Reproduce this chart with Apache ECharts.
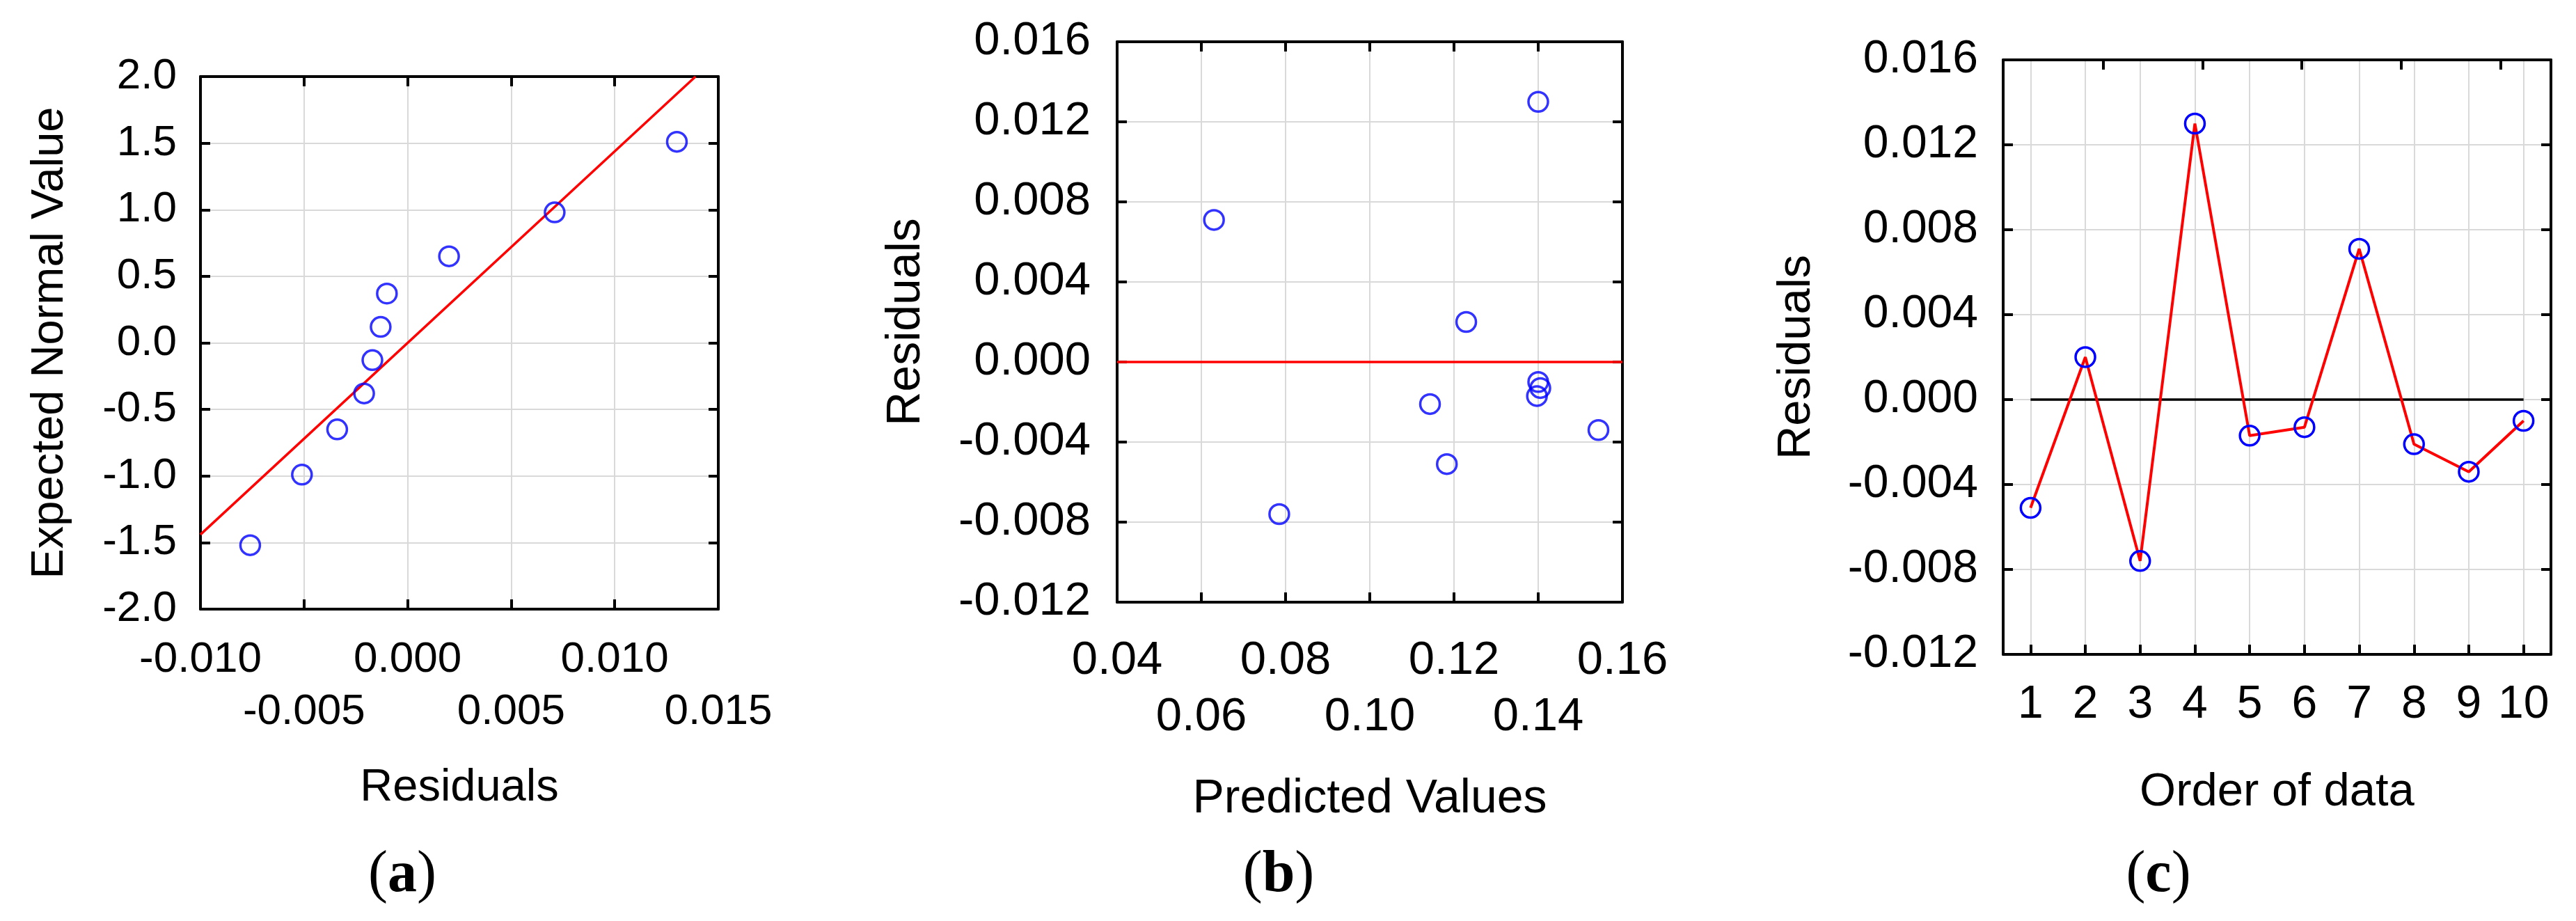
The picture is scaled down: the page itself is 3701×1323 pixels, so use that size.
<!DOCTYPE html>
<html>
<head>
<meta charset="utf-8">
<title>Residual plots</title>
<script src="https://cdn.jsdelivr.net/npm/echarts@6.0.0/dist/echarts.min.js"></script>
<style>
html, body { margin: 0; padding: 0; background: #fff; }
#chart { width: 3701px; height: 1323px; }
</style>
</head>
<body>
<div id="chart"></div>
<script>
// runs in the order they were done, with their residuals (panel c)
var orderTicks = [1, 2, 3, 4, 5, 6, 7, 8, 9, 10];
var residuals = [-0.0051, 0.0020, -0.0076, 0.0130, -0.0017, -0.0013, 0.0071, -0.0021, -0.0034, -0.0010];
// predicted value of each run (panel b)
var predicted = [0.1183, 0.1229, 0.0785, 0.1400, 0.1397, 0.1405, 0.0630, 0.1143, 0.1543, 0.1400];
// expected normal value of the sorted residuals (panel a)
var normalValues = [-1.52, -0.99, -0.65, -0.38, -0.13, 0.12, 0.37, 0.65, 0.98, 1.51];
// fitted line of the normal plot
var normalLine = [[-0.010, -1.44], [0.0139, 2.0]];
// zero lines of panels b and c
var zeroLineB = [[0.04, 0], [0.16, 0]];
var zeroLineC = [[1, 0], [10, 0]];
// x tick labels, staggered on two rows
var labelsA1 = [-0.010, 0.000, 0.010];
var labelsA2 = [-0.005, 0.005, 0.015];
var labelsB1 = [0.04, 0.08, 0.12, 0.16];
var labelsB2 = [0.06, 0.10, 0.14];
// odd tick marks on the top edge of panel c
var topTicksC = [2.33, 4.14, 5.95, 7.76, 9.58];
var panelLetters = ['a', 'b', 'c'];

var FONT = '"Liberation Sans", Arial, sans-serif';
var SERIF = '"Liberation Serif", "Times New Roman", serif';

var rectA = {left: 288, top: 110, width: 744, height: 765};
var rectB = {left: 1605, top: 60, width: 726, height: 805};
var rectC = {left: 2878, top: 86, width: 787, height: 854};

function fmt(d) {
	return function (v) {
		if (Math.abs(v) < 1e-12) v = 0;
		return v.toFixed(d);
	};
}
function frameLine() {
	return {show: true, onZero: false, lineStyle: {color: '#000', width: 4}};
}
function tickStyle(custom) {
	var t = {show: true, inside: true, length: 14, lineStyle: {color: '#000', width: 4}};
	if (custom) t.customValues = custom;
	return t;
}
function gridLine() {
	return {show: true, lineStyle: {color: '#d9d9d9', width: 2}};
}
function nameStyle(fs) {
	return {color: '#000', fontFamily: FONT, fontSize: fs};
}
function labelStyle(custom, dec, margin, fs) {
	var l = {show: true, margin: margin, color: '#000', fontFamily: FONT, fontSize: fs, lineHeight: fs};
	if (custom) l.customValues = custom;
	if (dec !== null) l.formatter = fmt(dec);
	return l;
}
function box(r) {
	return {left: r.left, top: r.top, width: r.width, height: r.height, show: false};
}

function bottomAxis(gi, min, max, step, labels, dec, margin, fs, name, gap, nfs) {
	return {
		type: 'value', gridIndex: gi, position: 'bottom',
		min: min, max: max, interval: step,
		axisLine: frameLine(),
		axisTick: tickStyle(),
		splitLine: gridLine(),
		axisLabel: labelStyle(labels, dec, margin, fs),
		name: name, nameLocation: 'middle', nameGap: gap, nameTextStyle: nameStyle(nfs)
	};
}
// second row of labels, on an overlaid grid
function rowAxis(gi, min, max, labels, dec, margin, fs) {
	return {
		type: 'value', gridIndex: gi, position: 'bottom', min: min, max: max,
		axisLine: {show: false, onZero: false},
		axisTick: {show: false},
		splitLine: {show: false},
		axisLabel: labelStyle(labels, dec, margin, fs)
	};
}
function leftAxis(gi, min, max, step, dec, margin, fs, name, gap, nfs) {
	return {
		type: 'value', gridIndex: gi, position: 'left',
		min: min, max: max, interval: step,
		axisLine: frameLine(),
		axisTick: tickStyle(),
		splitLine: gridLine(),
		axisLabel: labelStyle(null, dec, margin, fs),
		name: name, nameLocation: 'middle', nameGap: gap, nameTextStyle: nameStyle(nfs)
	};
}
// frame axes on top and right, ticks only
function frameAxis(gi, pos, min, max, step, custom) {
	var a = {
		type: 'value', gridIndex: gi, position: pos,
		min: min, max: max,
		axisLine: frameLine(),
		axisTick: tickStyle(custom),
		axisLabel: {show: false},
		splitLine: {show: false}
	};
	if (step) a.interval = step;
	return a;
}
function hiddenY(gi) {
	return {type: 'value', gridIndex: gi, show: false, min: 0, max: 1};
}

var sortedRes = residuals.slice().sort(function (x, y) { return x - y; });
var normalData = [];
for (var i = 0; i < sortedRes.length; i++) normalData.push([sortedRes[i], normalValues[i]]);
var predData = [];
var orderData = [];
for (var j = 0; j < residuals.length; j++) {
	predData.push([predicted[j], residuals[j]]);
	orderData.push([orderTicks[j], residuals[j]]);
}

var marker = {color: 'rgba(0,0,0,0)', borderColor: '#0000ff', borderWidth: 3.5};

var myChart = echarts.init(document.getElementById('chart'), null, {renderer: 'canvas'});
myChart.setOption({
	animation: false,
	backgroundColor: '#fff',
	grid: [box(rectA), box(rectB), box(rectC), box(rectA), box(rectB)],
	xAxis: [
		bottomAxis(0, -0.010, 0.015, 0.005, labelsA1, 3, 42, 62, 'Residuals', 225, 65),
		frameAxis(0, 'top', -0.010, 0.015, 0.005),
		bottomAxis(1, 0.04, 0.16, 0.02, labelsB1, 2, 51, 67, 'Predicted Values', 249, 68),
		frameAxis(1, 'top', 0.04, 0.16, 0.02),
		{
			type: 'value', gridIndex: 2, position: 'bottom', min: 0.5, max: 10.5,
			axisLine: frameLine(),
			axisTick: tickStyle(orderTicks),
			splitLine: gridLine(),
			axisLabel: labelStyle(orderTicks, null, 40, 66),
			name: 'Order of data', nameLocation: 'middle', nameGap: 165, nameTextStyle: nameStyle(67)
		},
		frameAxis(2, 'top', 0.5, 10.5, null, topTicksC),
		rowAxis(3, -0.010, 0.015, labelsA2, 3, 117, 62),
		rowAxis(4, 0.04, 0.16, labelsB2, 2, 132, 67)
	],
	yAxis: [
		leftAxis(0, -2, 2, 0.5, 1, 34, 62, 'Expected Normal Value', 183, 65),
		frameAxis(0, 'right', -2, 2, 0.5),
		leftAxis(1, -0.012, 0.016, 0.004, 3, 38, 67, 'Residuals', 269, 68),
		frameAxis(1, 'right', -0.012, 0.016, 0.004),
		leftAxis(2, -0.012, 0.016, 0.004, 3, 36, 66, 'Residuals', 263, 67),
		frameAxis(2, 'right', -0.012, 0.016, 0.004),
		hiddenY(3),
		hiddenY(4)
	],
	series: [
		{type: 'line', xAxisIndex: 0, yAxisIndex: 0, data: normalLine, symbol: 'none', silent: true,
			lineStyle: {color: '#ff0000', width: 3.5}, z: 2},
		{type: 'scatter', xAxisIndex: 0, yAxisIndex: 0, data: normalData, symbol: 'circle', symbolSize: 28,
			itemStyle: marker, silent: true, z: 3},
		{type: 'line', xAxisIndex: 2, yAxisIndex: 2, data: zeroLineB, symbol: 'none', silent: true,
			lineStyle: {color: '#ff0000', width: 3.5}, z: 2},
		{type: 'scatter', xAxisIndex: 2, yAxisIndex: 2, data: predData, symbol: 'circle', symbolSize: 28,
			itemStyle: marker, silent: true, z: 3},
		{type: 'line', xAxisIndex: 4, yAxisIndex: 4, data: zeroLineC, symbol: 'none', silent: true,
			lineStyle: {color: '#000', width: 3.5}, z: 2},
		{type: 'line', xAxisIndex: 4, yAxisIndex: 4, data: orderData, symbol: 'circle', symbolSize: 28,
			showSymbol: true, silent: true,
			lineStyle: {color: '#ff0000', width: 4}, itemStyle: marker, z: 3}
	],
	graphic: panelLetters.map(function (letter, k) {
		var xs = [578, 1837, 3101];
		return {
			type: 'text', x: xs[k], y: 1258, silent: true,
			style: {
				text: '{p|(}{b|' + letter + '}{p|)}',
				align: 'center', verticalAlign: 'middle',
				rich: {
					p: {fontFamily: SERIF, fontSize: 84, fill: '#000'},
					b: {fontFamily: SERIF, fontSize: 84, fontWeight: 'bold', fill: '#000'}
				}
			}
		};
	})
});
</script>
</body>
</html>
